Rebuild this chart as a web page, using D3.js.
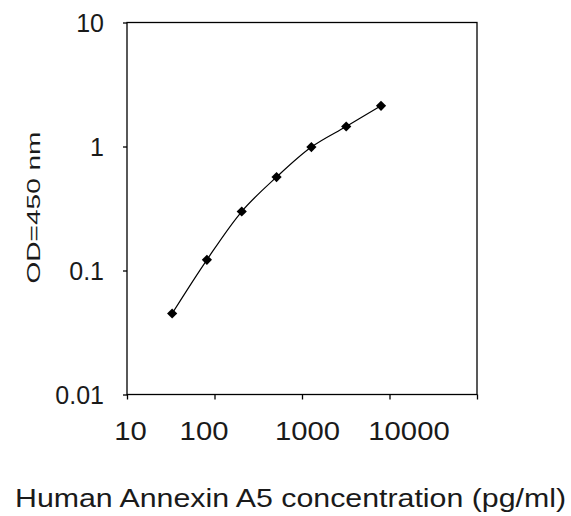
<!DOCTYPE html>
<meta charset="utf-8">
<script src="https://d3js.org/d3.v7.min.js"></script>
<style>
  body { margin: 0; background: #fff; }
  text { font-family: Arial, "Liberation Sans", Helvetica, sans-serif; fill: #1a1a1a; }
</style>
<div id="my_dataviz"></div>
<script>

// data (standard curve)
var conc = [32.8, 81.9, 204.8, 512, 1280, 3200, 8000];
var od   = [0.045, 0.122, 0.299, 0.567, 0.99, 1.45, 2.13];

var xTicks = [10, 100, 1000, 10000, 100000];
var xTickLabels = ["10", "100", "1000", "10000", ""];
var yTicks = [0.01, 0.1, 1, 10];
var yTickLabels = ["0.01", "0.1", "1", "10"];

var xTitle = "Human Annexin A5 concentration (pg/ml)";
var yTitle = "OD=450 nm";

// the labels in the picture sit a little off their ticks
var xLabelShift = [3, -11, 5, 19, 0];

var W = 571, H = 516;
var plotLeft = 127, plotRight = 477, plotTop = 22.5, plotBottom = 394.5;

var svg = d3.select("#my_dataviz")
  .append("svg")
    .attr("width", W)
    .attr("height", H);

svg.append("rect").attr("width", W).attr("height", H).attr("fill", "#fff");

var x = d3.scaleLog()
  .domain([10, 100000])
  .range([plotLeft, plotRight]);

var y = d3.scaleLog()
  .domain([0.01, 10])
  .range([plotBottom, plotTop]);

// frame
svg.append("rect")
  .attr("x", plotLeft).attr("y", plotTop)
  .attr("width", plotRight - plotLeft).attr("height", plotBottom - plotTop)
  .attr("fill", "none")
  .attr("stroke", "#000")
  .attr("stroke-width", 1.3);

// X axis
var gx = svg.append("g")
  .attr("transform", "translate(0," + plotBottom + ")")
  .call(d3.axisBottom(x).tickValues(xTicks).tickSize(5).tickSizeOuter(0)
        .tickFormat(function(d, i) { return xTickLabels[i]; }));
gx.select(".domain").remove();
gx.selectAll("line").attr("stroke", "#000").attr("stroke-width", 1.3);
gx.selectAll("text")
  .attr("y", 0)
  .attr("dy", 0)
  .attr("transform", function(d, i) { return "translate(" + xLabelShift[i] + ",45.5)"; })
  .style("font-size", "25px")
  .attr("fill", "#1a1a1a")
  .each(function() {
    var w = this.getComputedTextLength();
    if (w > 0) d3.select(this).attr("textLength", w * 1.17).attr("lengthAdjust", "spacingAndGlyphs");
  });

// Y axis
var gy = svg.append("g")
  .attr("transform", "translate(" + plotLeft + ",0)")
  .call(d3.axisLeft(y).tickValues(yTicks).tickSize(4).tickSizeOuter(0)
        .tickFormat(function(d, i) { return yTickLabels[i]; }));
gy.select(".domain").remove();
gy.selectAll("line").attr("stroke", "#000").attr("stroke-width", 1.3);
gy.selectAll("text")
  .attr("x", -23)
  .attr("dy", "0.36em")
  .style("font-size", "25px")
  .attr("fill", "#1a1a1a");

// curve
var pts = conc.map(function(c, i) { return [x(c), y(od[i])]; });

var line = d3.line().curve(d3.curveCatmullRom.alpha(0.5));

svg.append("path")
  .attr("d", line(pts))
  .attr("fill", "none")
  .attr("stroke", "#000")
  .attr("stroke-width", 1.2);

// markers
svg.append("g")
  .selectAll("path")
  .data(pts)
  .enter()
  .append("path")
    .attr("d", d3.symbol().type(d3.symbolSquare).size(52))
    .attr("transform", function(d) { return "translate(" + d[0] + "," + d[1] + ") rotate(45)"; })
    .attr("fill", "#000");

// titles
svg.append("text")
  .attr("x", 15)
  .attr("y", 506.5)
  .attr("textLength", 551)
  .attr("lengthAdjust", "spacingAndGlyphs")
  .style("font-size", "25px")
  .text(xTitle);

svg.append("text")
  .attr("transform", "translate(40,283.5) rotate(-90)")
  .attr("textLength", 152)
  .attr("lengthAdjust", "spacingAndGlyphs")
  .style("font-size", "19px")
  .text(yTitle);

</script>
